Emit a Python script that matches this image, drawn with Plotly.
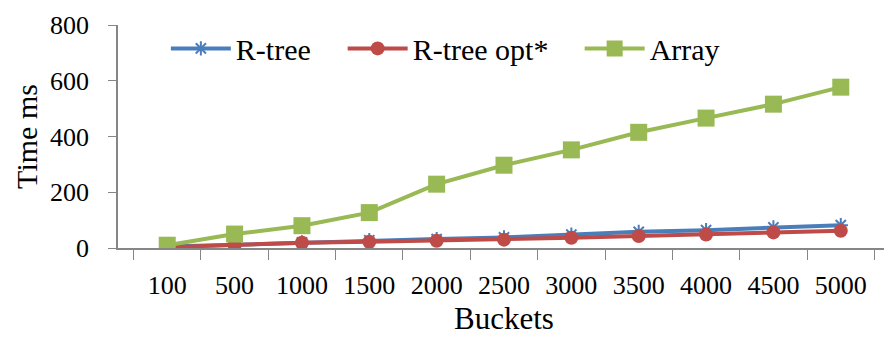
import plotly.graph_objects as go

buckets = ["100", "500", "1000", "1500", "2000", "2500", "3000", "3500", "4000", "4500", "5000"]
rtree = [5, 12, 20, 28, 32, 38, 48, 58, 64, 74, 82]
rtree_opt = [3, 10, 19, 22, 26, 30, 37, 43, 48, 56, 62]
array = [10, 50, 80, 127, 229, 297, 352, 415, 466, 516, 577]

font = "Liberation Serif, Times New Roman, serif"
fig = go.Figure()
fig.add_trace(go.Scatter(x=buckets, y=rtree, name="R-tree", mode="lines+markers",
                         line=dict(color="#4A7EBB", width=4), legend="legend",
                         marker=dict(symbol="asterisk-open", size=12, color="#4A7EBB",
                                     line=dict(color="#4A7EBB", width=2))))
fig.add_trace(go.Scatter(x=buckets, y=rtree_opt, name="R-tree opt*", mode="lines+markers",
                         line=dict(color="#BE4B48", width=4), legend="legend2",
                         marker=dict(symbol="circle", size=14, color="#BE4B48")))
fig.add_trace(go.Scatter(x=buckets, y=array, name="Array", mode="lines+markers",
                         line=dict(color="#98B954", width=4), legend="legend3",
                         marker=dict(symbol="square", size=17, color="#98B954")))

leg = dict(orientation="h", y=0.895, xanchor="left", yanchor="middle",
           font=dict(size=30), bgcolor="rgba(0,0,0,0)", itemwidth=60)

fig.update_layout(
    width=884, height=334,
    margin=dict(l=110, r=2, t=17, b=94),
    paper_bgcolor="white", plot_bgcolor="white",
    font=dict(family=font, size=26, color="black"),
    legend=dict(leg, x=0.062),
    legend2=dict(leg, x=0.291),
    legend3=dict(leg, x=0.598),
    showlegend=True,
)
fig.update_xaxes(type="category", showline=True, linecolor="#868686", linewidth=1.5,
                 ticks="outside", ticklen=10, tickcolor="#868686", tickson="boundaries",
                 tickfont=dict(size=26), showgrid=False, zeroline=False, automargin=False,
                 title=dict(text="Buckets", font=dict(size=31), standoff=8),
                 ticklabelstandoff=13)
fig.update_yaxes(range=[0, 800], dtick=200, showline=True, linecolor="#868686", linewidth=1.5,
                 ticks="outside", ticklen=8, tickcolor="#868686",
                 tickfont=dict(size=26), showgrid=False, zeroline=False, automargin=False,
                 title=dict(text="Time ms", font=dict(size=30), standoff=4),
                 ticklabelstandoff=14)

fig.write_html("out.html")
